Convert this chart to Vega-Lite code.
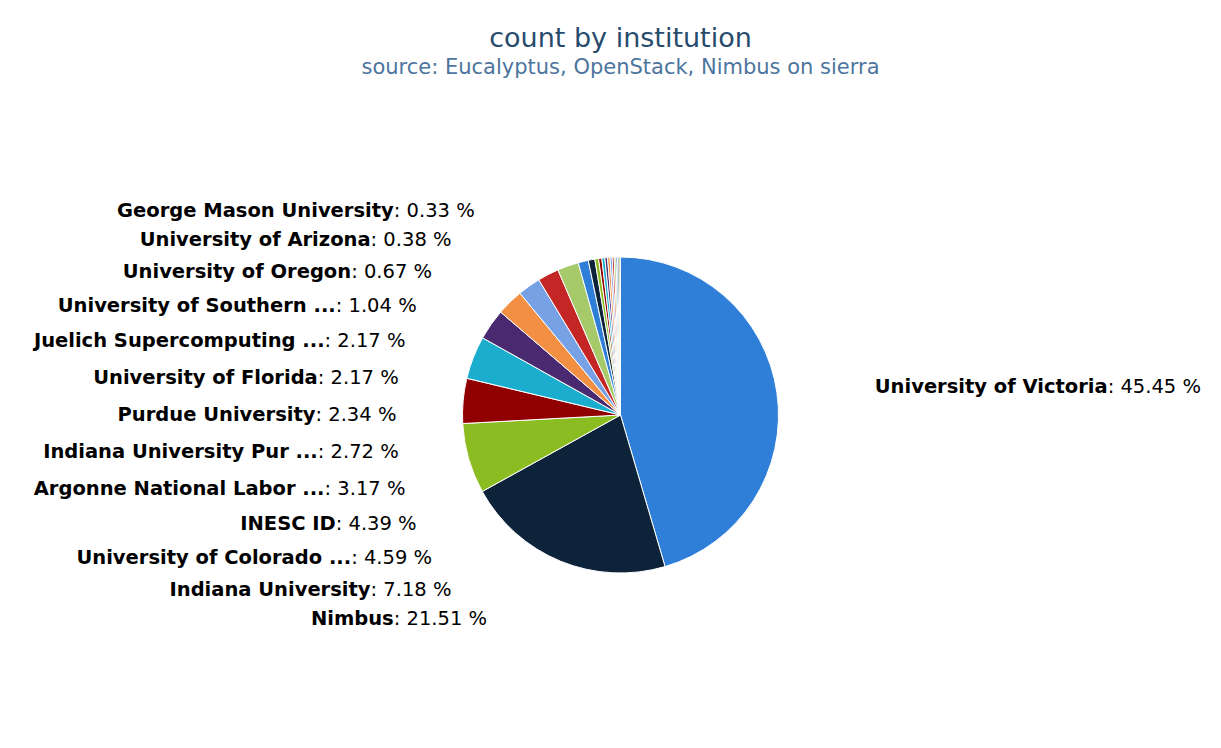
{
  "$schema": "https://vega.github.io/schema/vega-lite/v6.json",
  "width": 1201,
  "height": 666,
  "autosize": {"type": "pad"},
  "padding": {"left": 20, "top": 25, "right": 0, "bottom": 0},
  "background": "#ffffff",
  "config": {
    "view": {"stroke": null},
    "locale": {"number": {"decimal": ".", "thousands": ",", "grouping": [3], "currency": [": ", " %"]}}
  },
  "title": {
    "text": "count by institution",
    "subtitle": "source: Eucalyptus, OpenStack, Nimbus on sierra",
    "anchor": "middle",
    "font": "DejaVu Sans",
    "fontSize": 27,
    "fontWeight": "normal",
    "color": "#274b6d",
    "subtitleFont": "DejaVu Sans",
    "subtitleFontSize": 21,
    "subtitleColor": "#4d759e",
    "subtitlePadding": 4,
    "offset": 3
  },
  "data": {
    "values": [
      {"name": "University of Victoria", "pct": 45.45},
      {"name": "Nimbus", "pct": 21.51},
      {"name": "Indiana University", "pct": 7.18},
      {"name": "University of Colorado ...", "pct": 4.59},
      {"name": "INESC ID", "pct": 4.39},
      {"name": "Argonne National Labor ...", "pct": 3.17},
      {"name": "Indiana University Pur ...", "pct": 2.72},
      {"name": "Purdue University", "pct": 2.34},
      {"name": "University of Florida", "pct": 2.17},
      {"name": "Juelich Supercomputing ...", "pct": 2.17},
      {"name": "University of Southern ...", "pct": 1.04},
      {"name": "University of Oregon", "pct": 0.67},
      {"name": "University of Arizona", "pct": 0.38},
      {"name": "George Mason University", "pct": 0.33},
      {"name": "Other 1", "pct": 0.31},
      {"name": "Other 2", "pct": 0.27},
      {"name": "Other 3", "pct": 0.25},
      {"name": "Other 4", "pct": 0.22},
      {"name": "Other 5", "pct": 0.2},
      {"name": "Other 6", "pct": 0.18},
      {"name": "Other 7", "pct": 0.16},
      {"name": "Other 8", "pct": 0.15},
      {"name": "Other 9", "pct": 0.15}
    ]
  },
  "layer": [
    {
      "mark": {"type": "arc", "outerRadius": 158, "stroke": "#ffffff", "strokeWidth": 1},
      "encoding": {
        "theta": {"field": "pct", "type": "quantitative", "stack": true},
        "order": {"field": "pct", "type": "quantitative", "sort": "descending"},
        "color": {
          "field": "name",
          "type": "nominal",
          "legend": null,
          "scale": {
            "domain": ["University of Victoria", "Nimbus", "Indiana University", "University of Colorado ...", "INESC ID", "Argonne National Labor ...", "Indiana University Pur ...", "Purdue University", "University of Florida", "Juelich Supercomputing ...", "University of Southern ...", "University of Oregon", "University of Arizona", "George Mason University", "Other 1", "Other 2", "Other 3", "Other 4", "Other 5", "Other 6", "Other 7", "Other 8", "Other 9"],
            "range": ["#2f7ed8", "#0d233a", "#8bbc21", "#910000", "#1aadce", "#492970", "#f28f43", "#77a1e5", "#c42525", "#a6c96a", "#2f7ed8", "#0d233a", "#8bbc21", "#910000", "#1aadce", "#492970", "#f28f43", "#77a1e5", "#c42525", "#a6c96a", "#2f7ed8", "#0d233a", "#8bbc21"]
          }
        }
      }
    },
    {
      "transform": [{"filter": {"field": "name", "oneOf": ["Nimbus", "Indiana University", "University of Colorado ...", "INESC ID", "Argonne National Labor ...", "Indiana University Pur ...", "Purdue University", "University of Florida", "Juelich Supercomputing ...", "University of Southern ...", "University of Oregon", "University of Arizona", "George Mason University"]}}],
      "mark": {"type": "text", "radius": 305, "align": "right", "baseline": "middle", "font": "DejaVu Sans", "fontSize": 19.5, "fontWeight": "bold", "color": "#000000"},
      "encoding": {
        "theta": {"field": "name", "type": "nominal", "scale": {"domain": ["Nimbus", "Indiana University", "University of Colorado ...", "INESC ID", "Argonne National Labor ...", "Indiana University Pur ...", "Purdue University", "University of Florida", "Juelich Supercomputing ...", "University of Southern ...", "University of Oregon", "University of Arizona", "George Mason University"], "range": [3.98, 5.445], "padding": 0}},
        "text": {"field": "name", "type": "nominal"}
      }
    },
    {
      "transform": [{"filter": {"field": "name", "oneOf": ["Nimbus", "Indiana University", "University of Colorado ...", "INESC ID", "Argonne National Labor ...", "Indiana University Pur ...", "Purdue University", "University of Florida", "Juelich Supercomputing ...", "University of Southern ...", "University of Oregon", "University of Arizona", "George Mason University"]}}],
      "mark": {"type": "text", "radius": 305, "align": "left", "baseline": "middle", "font": "DejaVu Sans", "fontSize": 19.5, "fontWeight": "normal", "color": "#000000"},
      "encoding": {
        "theta": {"field": "name", "type": "nominal", "scale": {"domain": ["Nimbus", "Indiana University", "University of Colorado ...", "INESC ID", "Argonne National Labor ...", "Indiana University Pur ...", "Purdue University", "University of Florida", "Juelich Supercomputing ...", "University of Southern ...", "University of Oregon", "University of Arizona", "George Mason University"], "range": [3.98, 5.445], "padding": 0}},
        "text": {"field": "pct", "type": "quantitative", "format": "$.2f"}
      }
    },
    {
      "transform": [{"filter": {"field": "name", "equal": "University of Victoria"}}],
      "mark": {"type": "text", "radius": 488, "align": "right", "baseline": "middle", "font": "DejaVu Sans", "fontSize": 19.5, "fontWeight": "bold", "color": "#000000"},
      "encoding": {
        "theta": {"field": "name", "type": "nominal", "scale": {"range": [1.513, 1.513], "padding": 0}},
        "text": {"field": "name", "type": "nominal"}
      }
    },
    {
      "transform": [{"filter": {"field": "name", "equal": "University of Victoria"}}],
      "mark": {"type": "text", "radius": 488, "align": "left", "baseline": "middle", "font": "DejaVu Sans", "fontSize": 19.5, "fontWeight": "normal", "color": "#000000"},
      "encoding": {
        "theta": {"field": "name", "type": "nominal", "scale": {"range": [1.513, 1.513], "padding": 0}},
        "text": {"field": "pct", "type": "quantitative", "format": "$.2f"}
      }
    }
  ],
  "resolve": {"scale": {"theta": "independent"}}
}
